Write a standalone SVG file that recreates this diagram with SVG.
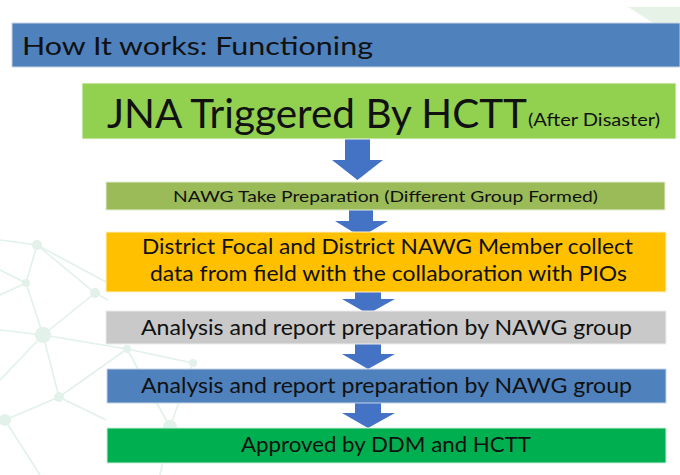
<svg xmlns="http://www.w3.org/2000/svg" width="680" height="475" viewBox="0 0 680 475">
<style>
.t{font-family:Lato,"Open Sans","Liberation Sans",sans-serif;fill:#111;}
.net line{stroke:#e2f1e9;stroke-width:1.6;}
.net circle{fill:#e2f1e9;}
.arrow{fill:#4472c4;}
</style>
<rect width="680" height="475" fill="#ffffff"/>
<g class="net">
<path d="M628 7 L680 7 L680 40 Z" fill="#e6f2e6"/>
<line x1="0" y1="240" x2="37" y2="245"/>
<line x1="37" y1="245" x2="95" y2="293"/>
<line x1="37" y1="245" x2="108" y2="283"/>
<line x1="37" y1="245" x2="26" y2="283"/>
<line x1="0" y1="270" x2="26" y2="283"/>
<line x1="0" y1="295" x2="26" y2="283"/>
<line x1="26" y1="283" x2="43" y2="335"/>
<line x1="0" y1="330" x2="43" y2="335"/>
<line x1="95" y1="293" x2="43" y2="335"/>
<line x1="95" y1="293" x2="108" y2="300"/>
<line x1="43" y1="335" x2="127" y2="349"/>
<line x1="43" y1="335" x2="59" y2="397"/>
<line x1="43" y1="335" x2="0" y2="380"/>
<line x1="59" y1="397" x2="5" y2="420"/>
<line x1="59" y1="397" x2="127" y2="349"/>
<line x1="59" y1="397" x2="106" y2="420"/>
<line x1="5" y1="420" x2="40" y2="475"/>
<line x1="127" y1="349" x2="193" y2="363"/>
<line x1="127" y1="349" x2="170" y2="427"/>
<line x1="193" y1="363" x2="170" y2="427"/>
<line x1="170" y1="427" x2="106" y2="440"/>
<line x1="170" y1="427" x2="160" y2="475"/>
<circle cx="37" cy="245" r="5"/>
<circle cx="26" cy="283" r="4"/>
<circle cx="95" cy="293" r="5"/>
<circle cx="43" cy="335" r="8"/>
<circle cx="59" cy="397" r="5"/>
<circle cx="5" cy="420" r="6"/>
<circle cx="127" cy="349" r="4"/>
<circle cx="193" cy="363" r="4"/>
<circle cx="170" cy="427" r="7"/>
</g>
<g id="header">
<rect x="12" y="23" width="668" height="44" fill="#4f81bd" stroke="#c5d3e8" stroke-width="1"/>
<text class="t" x="22" y="55" font-size="25" textLength="351" lengthAdjust="spacingAndGlyphs">How It works: Functioning</text>
</g>
<g id="connectors">
<polygon class="arrow" points="345,139 370,139 370,160 383,160 357.5,180 332,160 345,160"/>
<polygon class="arrow" points="349,210 373,210 373,221 388,221 361,237 335,221 349,221"/>
<polygon class="arrow" points="355,292 381,292 381,299 395,299 368,314 342,299 355,299"/>
<polygon class="arrow" points="355,344 381,344 381,354 395,354 368,369 342,354 355,354"/>
<polygon class="arrow" points="355,403 381,403 381,413 395,413 368,428 342,413 355,413"/>
</g>
<g id="jna">
<rect x="82" y="83" width="594" height="56" fill="#92d050" stroke="#f2f8ec" stroke-width="1"/>
<text class="t" x="107" y="128" font-size="40" textLength="420" lengthAdjust="spacingAndGlyphs">JNA Triggered By HCTT</text>
<text class="t" x="528" y="126" font-size="16.5" textLength="132" lengthAdjust="spacingAndGlyphs">(After Disaster)</text>
</g>
<g id="nawg">
<rect x="106" y="182" width="559" height="28" fill="#9bbb59" stroke="#e6eed8" stroke-width="1"/>
<text class="t" x="385.5" y="202" font-size="15" text-anchor="middle" textLength="425" lengthAdjust="spacingAndGlyphs">NAWG Take Preparation (Different Group Formed)</text>
</g>
<g id="district">
<rect x="106" y="232" width="560" height="60" fill="#ffc000" stroke="#fff2cc" stroke-width="1"/>
<text class="t" x="387.5" y="254" font-size="20.5" text-anchor="middle" textLength="491" lengthAdjust="spacingAndGlyphs">District Focal and District NAWG Member collect</text>
<text class="t" x="388.5" y="281" font-size="20.5" text-anchor="middle" textLength="477" lengthAdjust="spacingAndGlyphs">data from field with the collaboration with PIOs</text>
</g>
<g id="analysis1">
<rect x="106" y="311" width="560" height="33" fill="#c9c9c9" stroke="#ececec" stroke-width="1"/>
<text class="t" x="386.5" y="335" font-size="20.5" text-anchor="middle" textLength="491" lengthAdjust="spacingAndGlyphs">Analysis and report preparation by NAWG group</text>
</g>
<g id="analysis2">
<rect x="107" y="369" width="559" height="34" fill="#4f81bd" stroke="#c5d3e8" stroke-width="1"/>
<text class="t" x="386.5" y="393" font-size="20.5" text-anchor="middle" textLength="491" lengthAdjust="spacingAndGlyphs">Analysis and report preparation by NAWG group</text>
</g>
<g id="approved">
<rect x="107" y="428" width="559" height="35" fill="#00b050" stroke="#ccefdc" stroke-width="1"/>
<text class="t" x="386" y="452" font-size="20.5" text-anchor="middle" textLength="290" lengthAdjust="spacingAndGlyphs">Approved by DDM and HCTT</text>
</g>
</svg>
